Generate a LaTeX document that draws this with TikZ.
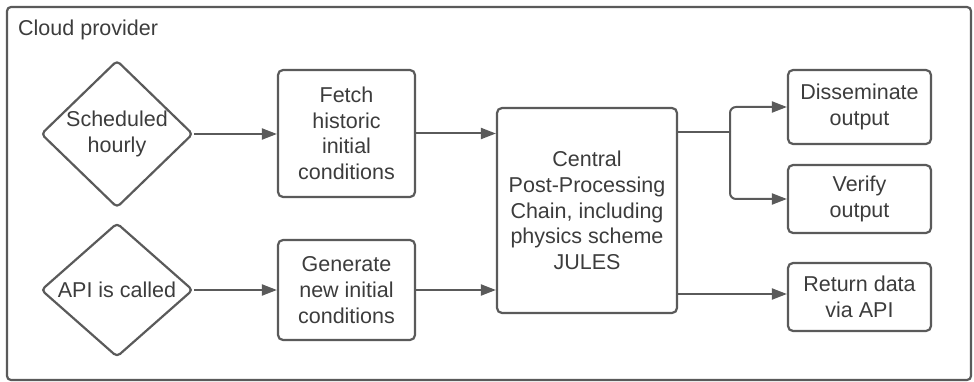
\documentclass[tikz,border=0pt]{standalone}
\usepackage{fontspec}
\setmainfont{Liberation Sans}
\usetikzlibrary{arrows.meta,shapes.geometric,calc}
\definecolor{edge}{HTML}{5A5A5A}
\definecolor{ink}{HTML}{3C3C3C}
\tikzset{
  x=1pt, y=1pt,
  base/.style={draw=edge, line width=2.2pt, text=ink, align=center, inner sep=0pt,
    font=\fontsize{21.5}{25.6}\selectfont},
  stepbox/.style={base, rectangle, rounded corners=5pt},
  decision/.style={base, diamond, rounded corners=4pt, minimum width=152pt, minimum height=134pt},
  arr/.style={draw=edge, line width=2pt, -{Triangle[length=15pt,width=11pt]}},
  wire/.style={draw=edge, line width=2pt},
}
\begin{document}
\begin{tikzpicture}
\useasboundingbox (0,0) rectangle (974,-382);
% outer container
\node[draw=edge, line width=2.2pt, rounded corners=4pt, rectangle, inner sep=0pt,
      minimum width=964pt, minimum height=373pt] (frame) at (489,-193.5) {};
\node[anchor=west, text=ink, inner sep=0pt, font=\fontsize{21.5}{25.6}\selectfont] (title) at (18,-30) {Cloud provider};

% triggers
\node[decision] (sched) at (117,-134) {Scheduled\\hourly};
\node[decision] (api) at (117,-290) {API is called};

% input stages
\node[stepbox, minimum width=137pt, minimum height=127pt] (fetch) at (346.5,-133.5) {Fetch\\historic\\initial\\conditions};
\node[stepbox, minimum width=137pt, minimum height=100pt] (gen) at (346.5,-290) {Generate\\new initial\\conditions};

% central processing
\node[stepbox, minimum width=180pt, minimum height=205pt] (chain) at (587,-210.5) {Central\\Post-Processing\\Chain, including\\physics scheme\\JULES};

% outputs
\node[stepbox, minimum width=143pt, minimum height=74pt] (diss) at (859.5,-107) {Disseminate\\output};
\node[stepbox, minimum width=143pt, minimum height=68pt] (verify) at (859.5,-199) {Verify\\output};
\node[stepbox, minimum width=143pt, minimum height=68pt] (ret) at (859.5,-297) {Return data\\via API};

% connectors
\draw[arr] (sched.east) -- (sched.east -| fetch.west);
\draw[arr] (api.east) -- (api.east -| gen.west);
\draw[arr] (fetch.east) -- (fetch.east -| chain.west);
\draw[arr] (gen.east) -- (gen.east -| chain.west);

\coordinate (split) at (730,-132);
\draw[wire] (chain.east |- split) -- (split);
\draw[arr, rounded corners=6pt] (split) -- (split |- diss.west) -- (diss.west);
\draw[arr, rounded corners=6pt] (split) -- (split |- verify.west) -- (verify.west);
\coordinate (retin) at ($(ret.west)+(0,3)$);
\draw[arr] (chain.east |- retin) -- (retin);
\end{tikzpicture}
\end{document}
